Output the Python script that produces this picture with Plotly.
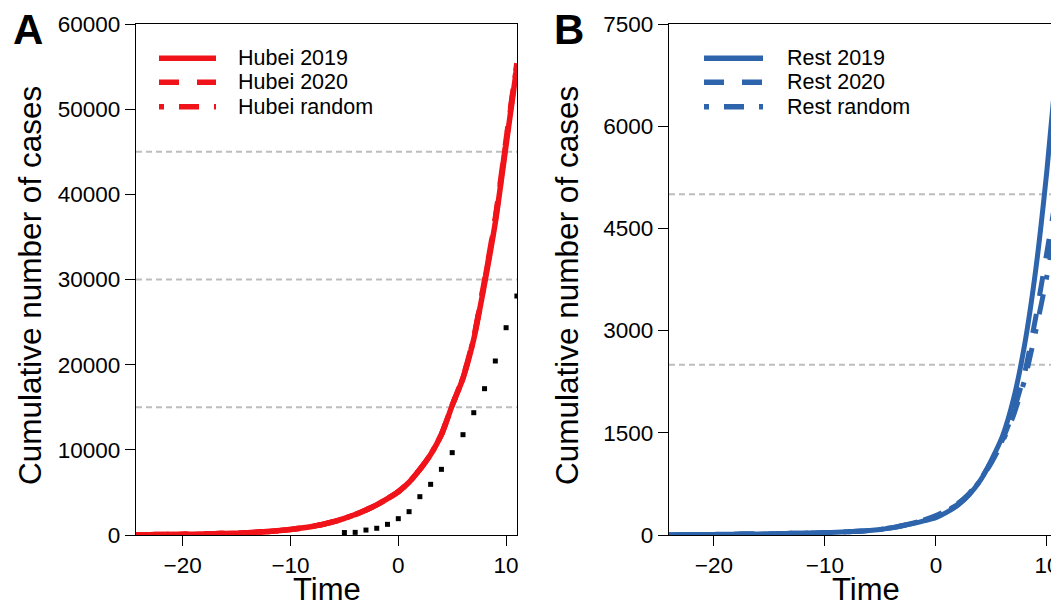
import plotly.graph_objects as go

# ---------------- data ----------------
time = list(range(-25, 12))

hubei_2019 = [27, 33, 41, 51, 63, 78, 95, 118, 145, 180, 220, 275, 340, 420, 520, 650,
              810, 1000, 1250, 1560, 1950, 2400, 2935, 3540, 4270, 5085, 6200, 7700,
              9450, 11800, 15200, 18400, 23000, 29500, 36700, 45800, 55000]
hubei_2020 = [27, 33, 41, 51, 63, 78, 95, 118, 145, 180, 220, 275, 340, 420, 520, 650,
              810, 1000, 1250, 1560, 1950, 2400, 2935, 3540, 4270, 5085, 6200, 7700,
              9450, 11800, 15250, 18500, 23200, 29900, 37200, 46400, 55400]
hubei_random = [27, 33, 41, 51, 63, 78, 95, 118, 145, 180, 220, 275, 340, 420, 520, 650,
                810, 1000, 1250, 1560, 1950, 2400, 2935, 3540, 4270, 5085, 6200, 7700,
                9450, 11800, 15220, 18450, 23100, 29800, 37000, 46200, 55200]

obs_time = list(range(-5, 12))
hubei_obs = [290, 310, 580, 790, 1252, 1917, 2740, 4500, 5950, 7710, 9670, 11780,
             14360, 17180, 20430, 24340, 28060]

rest_2019 = [4, 5, 6, 7, 8, 9, 10, 12, 14, 16, 18, 21, 24, 27, 31, 35, 40, 46, 55, 66,
             82, 105, 135, 170, 210, 255, 335, 440, 590, 800, 1100, 1450, 2000, 2800,
             3900, 5350, 7100]
rest_2020 = [4, 5, 6, 7, 8, 9, 10, 12, 14, 16, 18, 21, 24, 27, 31, 35, 40, 46, 55, 66,
             82, 106, 140, 180, 225, 285, 365, 465, 610, 810, 1080, 1400, 1820, 2380,
             3200, 4150, 5150]
rest_random = [4, 5, 6, 7, 8, 9, 10, 12, 14, 16, 18, 21, 24, 27, 31, 35, 40, 46, 55, 66,
               82, 105, 138, 176, 220, 278, 355, 455, 600, 800, 1060, 1370, 1760, 2280,
               3000, 3800, 4700]

names_A = ["Hubei 2019", "Hubei 2020", "Hubei random"]
names_B = ["Rest 2019", "Rest 2020", "Rest random"]
ref_lines_A = [15000, 30000, 45000]
ref_lines_B = [2500, 5000]
yticks_A = [0, 10000, 20000, 30000, 40000, 50000, 60000]
yticks_B = [0, 1500, 3000, 4500, 6000, 7500]
xticks = [-20, -10, 0, 10]

# ---------------- styling ----------------
# figure sized so that, with the page's default 8px body margin, it exactly fills the window
W, H = 1051, 594
MARGIN = 8
RED = "#F0141A"
BLUE = "#2D64AB"
FONT = "Liberation Sans, Arial, Helvetica, sans-serif"
DASHES = ["solid", "20px,18px", "5px,15px,20px,15px"]
LW = 5.5


def px(x):
    """window pixel x -> paper fraction"""
    return (x - MARGIN) / W


def py(y):
    """window pixel y -> paper fraction"""
    return 1 - (y - MARGIN) / H


fig = go.Figure()

for vals, name, dash in zip([hubei_2019, hubei_2020, hubei_random], names_A, DASHES):
    fig.add_trace(go.Scatter(x=time, y=vals, name=name, mode="lines",
                             line=dict(color=RED, width=LW, dash=dash, shape="spline", smoothing=0.6),
                             xaxis="x", yaxis="y", showlegend=False))
fig.add_trace(go.Scatter(x=obs_time, y=hubei_obs, mode="markers", name="Hubei observed",
                         marker=dict(symbol="square", size=5, color="black"),
                         xaxis="x", yaxis="y", showlegend=False))

for vals, name, dash in zip([rest_2019, rest_2020, rest_random], names_B, DASHES):
    fig.add_trace(go.Scatter(x=time, y=vals, name=name, mode="lines",
                             line=dict(color=BLUE, width=LW - 0.5, dash=dash, shape="spline", smoothing=0.6),
                             xaxis="x2", yaxis="y2", showlegend=False))

shapes = []
for v in ref_lines_A:
    shapes.append(dict(type="line", xref="x domain", yref="y", x0=0, x1=1, y0=v, y1=v,
                       line=dict(color="#BDBDBD", width=2, dash="6px,4px"), layer="below"))
for v in ref_lines_B:
    shapes.append(dict(type="line", xref="x2 domain", yref="y2", x0=0, x1=1, y0=v, y1=v,
                       line=dict(color="#BDBDBD", width=2, dash="6px,4px"), layer="below"))

annotations = []
legend_rows = [58.3, 82.3, 106.7]
for (lx0, lx1, tx, color, names) in [(159, 216, 236, RED, names_A), (704, 763, 785, BLUE, names_B)]:
    for yy, name, dash in zip(legend_rows, names, DASHES):
        shapes.append(dict(type="line", xref="paper", yref="paper", x0=px(lx0), x1=px(lx1),
                           y0=py(yy), y1=py(yy), line=dict(color=color, width=LW, dash=dash)))
        annotations.append(dict(text=name, xref="paper", yref="paper", x=px(tx), y=py(yy),
                                xanchor="left", yanchor="middle", showarrow=False,
                                font=dict(size=21.5, color="black", family=FONT)))

# axis titles and panel letters
for cx, letter, lx, ly in [(30, "A", 28, 30), (567, "B", 569, 30)]:
    annotations.append(dict(text="Cumulative number of cases", xref="paper", yref="paper",
                            x=px(cx), y=py(286), textangle=-90, showarrow=False,
                            xanchor="center", yanchor="middle",
                            font=dict(size=31.5, color="black", family=FONT)))
    annotations.append(dict(text="<b>%s</b>" % letter, xref="paper", yref="paper",
                            x=px(lx), y=py(ly), showarrow=False, xanchor="center", yanchor="middle",
                            font=dict(size=42, color="black", family=FONT)))
for cx in [327, 866]:
    annotations.append(dict(text="Time", xref="paper", yref="paper", x=px(cx), y=py(589),
                            showarrow=False, xanchor="center", yanchor="middle",
                            font=dict(size=31, color="black", family=FONT)))

axis_common = dict(showline=True, mirror=True, linecolor="black", linewidth=1.3,
                   ticks="outside", ticklen=10, tickwidth=1.3, tickcolor="black",
                   showgrid=False, zeroline=False, automargin=False,
                   tickfont=dict(size=22.5, color="black", family=FONT))

fig.update_layout(
    width=W, height=H, autosize=False,
    margin=dict(l=0, r=0, t=0, b=0, pad=0),
    paper_bgcolor="white", plot_bgcolor="white",
    font=dict(family=FONT, color="black"),
    xaxis=dict(domain=[px(136), px(517)], range=[-24.33, 11.01], tickvals=xticks,
               anchor="y", ticklabeloverflow="allow", **axis_common),
    yaxis=dict(domain=[py(535), py(24)], range=[0, 60000], tickvals=yticks_A,
               tickformat="d", anchor="x", **axis_common),
    xaxis2=dict(domain=[px(669), min(1.0, px(1058))], range=[-24.05, 11.0], tickvals=xticks,
                anchor="y2", ticklabeloverflow="allow", **axis_common),
    yaxis2=dict(domain=[py(535), py(24)], range=[0, 7500], tickvals=yticks_B,
                tickformat="d", anchor="x2", **axis_common),
    shapes=shapes,
    annotations=annotations,
    showlegend=False,
)

fig.write_html("out.html")
